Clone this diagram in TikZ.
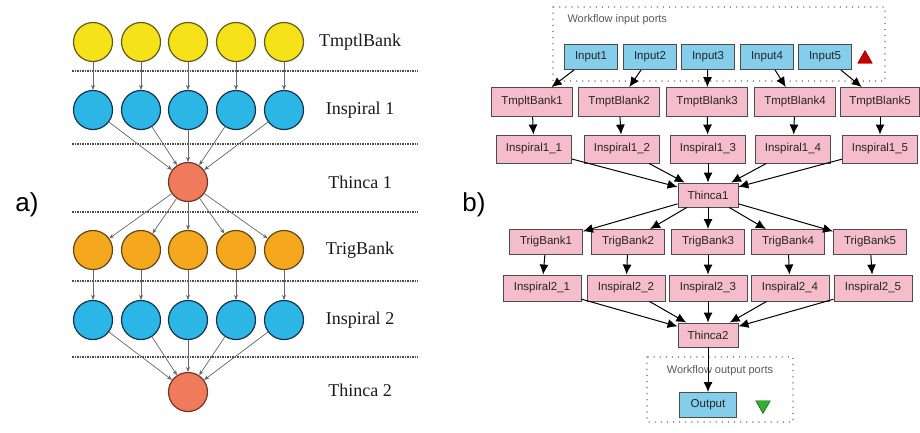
\documentclass[tikz,border=0pt]{standalone}
\usepackage{fontspec}
\setmainfont{Liberation Serif}
\setsansfont{Liberation Sans}
\usepackage{tikz}
\usetikzlibrary{positioning,arrows.meta,shapes.geometric}

\definecolor{yellowjob}{RGB}{246,226,24}
\definecolor{yellowedge}{RGB}{100,90,25}
\definecolor{bluejob}{RGB}{44,182,230}
\definecolor{blueedge}{RGB}{20,50,80}
\definecolor{orangejob}{RGB}{245,168,30}
\definecolor{orangeedge}{RGB}{100,70,20}
\definecolor{salmonjob}{RGB}{240,122,92}
\definecolor{salmonedge}{RGB}{110,55,35}
\definecolor{boxpink}{RGB}{245,188,203}
\definecolor{portblue}{RGB}{132,206,236}

\begin{document}
\begin{tikzpicture}[
  x=1pt, y=-1pt,
  every node/.style={font=\sffamily},
  job/.style={circle, draw, line width=1.2pt, minimum size=39pt, inner sep=0pt},
  lvl/.style={font=\rmfamily\fontsize{18}{20}\selectfont, text=black!90},
  sep/.style={draw=black!70, line width=1.5pt, dash pattern=on 1.6pt off 0.9pt},
  flow/.style={-{Stealth[length=5pt,width=4pt]}, draw=black!60, line width=0.7pt},
  box/.style={draw=black!70, line width=0.9pt, fill=boxpink, minimum height=25pt, inner sep=2pt, text=black!85, font=\sffamily\fontsize{11.5}{13}\selectfont},
  port/.style={box, fill=portblue},
  link/.style={-{Latex[length=10pt,width=9pt]}, line width=1pt},
  group/.style={draw=black!45, line width=1.4pt, dash pattern=on 0.1pt off 6pt, line cap=round},
  tag/.style={font=\sffamily\fontsize{26}{28}\selectfont}
]
\useasboundingbox (0,0) rectangle (920,432);

% a) job graph
\node[tag] (taga) at (27,205) {a)};
\draw[sep] (72,71) -- (418,71);
\draw[sep] (72,144) -- (418,144);
\draw[sep] (72,212) -- (418,212);
\draw[sep] (72,281) -- (418,281);
\draw[sep] (72,357) -- (418,357);

\node[job, fill=yellowjob, draw=yellowedge] (tb1) at (93,42) {};
\node[job, fill=yellowjob, draw=yellowedge] (tb2) at (141,42) {};
\node[job, fill=yellowjob, draw=yellowedge] (tb3) at (188,42) {};
\node[job, fill=yellowjob, draw=yellowedge] (tb4) at (236,42) {};
\node[job, fill=yellowjob, draw=yellowedge] (tb5) at (284,42) {};
\node[job, fill=bluejob, draw=blueedge] (ia1) at (93,110) {};
\node[job, fill=bluejob, draw=blueedge] (ia2) at (141,110) {};
\node[job, fill=bluejob, draw=blueedge] (ia3) at (188,110) {};
\node[job, fill=bluejob, draw=blueedge] (ia4) at (236,110) {};
\node[job, fill=bluejob, draw=blueedge] (ia5) at (284,110) {};
\node[job, fill=salmonjob, draw=salmonedge] (th1) at (188,182) {};
\node[job, fill=orangejob, draw=orangeedge] (trg1) at (93,250) {};
\node[job, fill=orangejob, draw=orangeedge] (trg2) at (141,250) {};
\node[job, fill=orangejob, draw=orangeedge] (trg3) at (188,250) {};
\node[job, fill=orangejob, draw=orangeedge] (trg4) at (236,250) {};
\node[job, fill=orangejob, draw=orangeedge] (trg5) at (284,250) {};
\node[job, fill=bluejob, draw=blueedge] (ib1) at (93,320) {};
\node[job, fill=bluejob, draw=blueedge] (ib2) at (141,320) {};
\node[job, fill=bluejob, draw=blueedge] (ib3) at (188,320) {};
\node[job, fill=bluejob, draw=blueedge] (ib4) at (236,320) {};
\node[job, fill=bluejob, draw=blueedge] (ib5) at (284,320) {};
\node[job, fill=salmonjob, draw=salmonedge] (th2) at (188,392) {};

\node[lvl] (ltb) at (360,42) {TmptlBank};
\node[lvl] (lia) at (360,110) {Inspiral 1};
\node[lvl] (lth1) at (360,182) {Thinca 1};
\node[lvl] (ltrg) at (360,250) {TrigBank};
\node[lvl] (lib) at (360,320) {Inspiral 2};
\node[lvl] (lth2) at (360,390) {Thinca 2};

\draw[flow] (tb1) -- (ia1);
\draw[flow] (tb2) -- (ia2);
\draw[flow] (tb3) -- (ia3);
\draw[flow] (tb4) -- (ia4);
\draw[flow] (tb5) -- (ia5);
\draw[flow] (ia1) -- (th1);
\draw[flow] (ia2) -- (th1);
\draw[flow] (ia3) -- (th1);
\draw[flow] (ia4) -- (th1);
\draw[flow] (ia5) -- (th1);
\draw[flow] (th1) -- (trg1);
\draw[flow] (th1) -- (trg2);
\draw[flow] (th1) -- (trg3);
\draw[flow] (th1) -- (trg4);
\draw[flow] (th1) -- (trg5);
\draw[flow] (trg1) -- (ib1);
\draw[flow] (trg2) -- (ib2);
\draw[flow] (trg3) -- (ib3);
\draw[flow] (trg4) -- (ib4);
\draw[flow] (trg5) -- (ib5);
\draw[flow] (ib1) -- (th2);
\draw[flow] (ib2) -- (th2);
\draw[flow] (ib3) -- (th2);
\draw[flow] (ib4) -- (th2);
\draw[flow] (ib5) -- (th2);

% b) workflow editor
\node[tag] (tagb) at (474,205) {b)};
\draw[group] (553,7) rectangle (885,81);
\draw[group] (647,357) rectangle (793,422);
\node[anchor=west, text=black!65, font=\sffamily\fontsize{11}{13}\selectfont] (inlabel) at (564,20) {Workflow input ports};
\node[text=black!65, font=\sffamily\fontsize{11}{13}\selectfont] (outlabel) at (720,371) {Workflow output ports};

\node[port, minimum width=53pt] (In1) at (591,57) {Input1};
\node[port, minimum width=53pt] (In2) at (650,57) {Input2};
\node[port, minimum width=53pt] (In3) at (708,57) {Input3};
\node[port, minimum width=53pt] (In4) at (767,57) {Input4};
\node[port, minimum width=53pt] (In5) at (825,57) {Input5};
\node[regular polygon, regular polygon sides=3, fill=red!80!black, draw=red!40!black, minimum size=17pt, inner sep=0pt] (up) at (865,59) {};

\node[box, minimum width=81pt, minimum height=29pt] (TB1) at (532,102) {TmpltBank1};
\node[box, minimum width=81pt, minimum height=29pt] (TB2) at (619,102) {TmptBlank2};
\node[box, minimum width=81pt, minimum height=29pt] (TB3) at (707,102) {TmptBlank3};
\node[box, minimum width=81pt, minimum height=29pt] (TB4) at (795,102) {TmptBlank4};
\node[box, minimum width=79pt, minimum height=29pt] (TB5) at (880,102) {TmptBlank5};

\node[box, minimum width=75pt, minimum height=28pt] (IA1) at (534,149) {Inspiral1\_1};
\node[box, minimum width=75pt, minimum height=28pt] (IA2) at (622,149) {Inspiral1\_2};
\node[box, minimum width=75pt, minimum height=28pt] (IA3) at (708,149) {Inspiral1\_3};
\node[box, minimum width=75pt, minimum height=28pt] (IA4) at (793,149) {Inspiral1\_4};
\node[box, minimum width=75pt, minimum height=28pt] (IA5) at (880,149) {Inspiral1\_5};

\node[box, minimum width=60pt, minimum height=24pt] (TH1) at (708,195) {Thinca1};

\node[box, minimum width=73pt] (TG1) at (546,242) {TrigBank1};
\node[box, minimum width=73pt] (TG2) at (628,242) {TrigBank2};
\node[box, minimum width=73pt] (TG3) at (708,242) {TrigBank3};
\node[box, minimum width=73pt] (TG4) at (788,242) {TrigBank4};
\node[box, minimum width=73pt] (TG5) at (870,242) {TrigBank5};

\node[box, minimum width=78pt, minimum height=26pt] (IB1) at (542,288) {Inspiral2\_1};
\node[box, minimum width=78pt, minimum height=26pt] (IB2) at (626,288) {Inspiral2\_2};
\node[box, minimum width=78pt, minimum height=26pt] (IB3) at (708,288) {Inspiral2\_3};
\node[box, minimum width=78pt, minimum height=26pt] (IB4) at (790,288) {Inspiral2\_4};
\node[box, minimum width=78pt, minimum height=26pt] (IB5) at (873,288) {Inspiral2\_5};

\node[box, minimum width=60pt, minimum height=24pt] (TH2) at (708,335) {Thinca2};

\node[port, minimum width=57pt] (Out) at (708,405) {Output};
\node[regular polygon, regular polygon sides=3, shape border rotate=180, fill=green!60!black!80, draw=green!30!black, minimum size=17pt, inner sep=0pt] (down) at (763,405) {};

\draw[link] (In1) -- (TB1);
\draw[link] (In2) -- (TB2);
\draw[link] (In3) -- (TB3);
\draw[link] (In4) -- (TB4);
\draw[link] (In5) -- (TB5);
\draw[link] (TB1) -- (IA1);
\draw[link] (TB2) -- (IA2);
\draw[link] (TB3) -- (IA3);
\draw[link] (TB4) -- (IA4);
\draw[link] (TB5) -- (IA5);
\draw[link] (IA1) -- (TH1);
\draw[link] (IA2) -- (TH1);
\draw[link] (IA3) -- (TH1);
\draw[link] (IA4) -- (TH1);
\draw[link] (IA5) -- (TH1);
\draw[link] (TH1) -- (TG1);
\draw[link] (TH1) -- (TG2);
\draw[link] (TH1) -- (TG3);
\draw[link] (TH1) -- (TG4);
\draw[link] (TH1) -- (TG5);
\draw[link] (TG1) -- (IB1);
\draw[link] (TG2) -- (IB2);
\draw[link] (TG3) -- (IB3);
\draw[link] (TG4) -- (IB4);
\draw[link] (TG5) -- (IB5);
\draw[link] (IB1) -- (TH2);
\draw[link] (IB2) -- (TH2);
\draw[link] (IB3) -- (TH2);
\draw[link] (IB4) -- (TH2);
\draw[link] (IB5) -- (TH2);
\draw[link] (TH2) -- (Out);
\end{tikzpicture}
\end{document}
